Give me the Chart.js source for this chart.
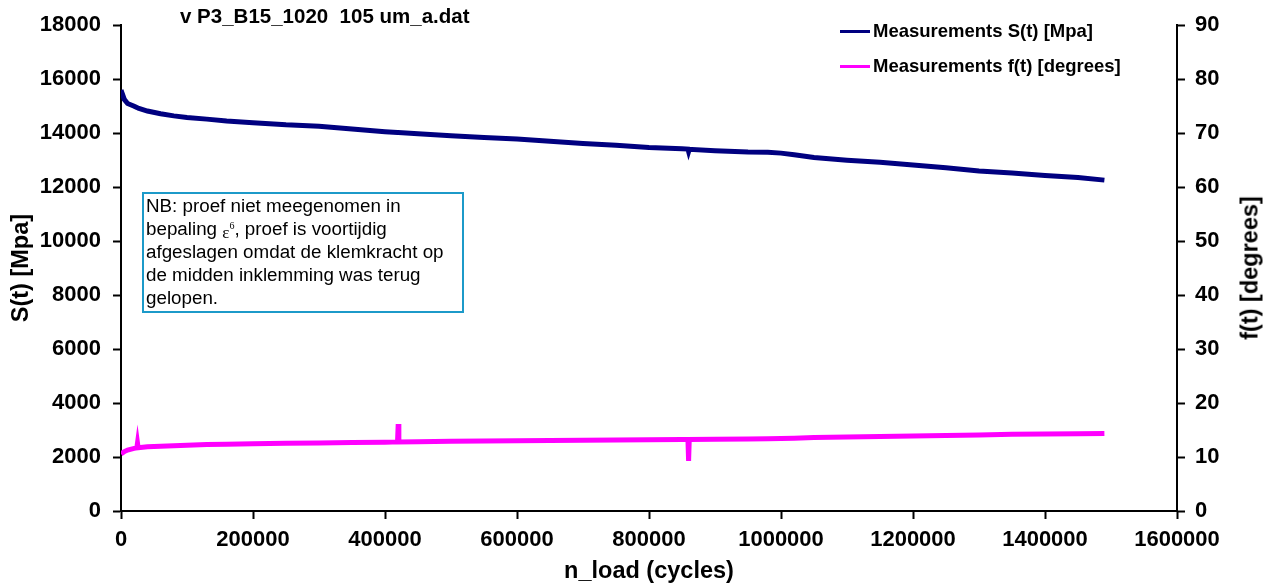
<!DOCTYPE html>
<html lang="nl">
<head>
  <meta charset="UTF-8">
  <title>v P3_B15_1020 105 um_a.dat</title>
  <script src="https://cdn.jsdelivr.net/npm/chart.js"></script>
  <style>
    body {
      margin: 0;
      background: #fff;
      font-family: 'Liberation Sans', Arial, sans-serif;
    }
    .wrap {
      position: relative;
      width: 1266px;
      height: 587px;
    }
    .title {
      position: absolute;
      left: 180px;
      top: 4px;
      font-size: 20.5px;
      font-weight: bold;
      white-space: pre;
    }
    .legend {
      position: absolute;
      left: 840px;
      top: 19px;
      font-size: 18.5px;
      font-weight: bold;
    }
    .legend div {
      display: flex;
      align-items: center;
      height: 24px;
      margin-bottom: 11px;
    }
    .legend span.line {
      display: inline-block;
      width: 30px;
      height: 3px;
      margin-right: 3px;
    }
    .note {
      position: absolute;
      left: 142px;
      top: 192px;
      width: 316px;
      height: 117px;
      border: 2px solid #1c9ac9;
      padding: 0 0 0 2px;
      font-size: 18.8px;
      line-height: 23px;
      white-space: nowrap;
    }
    .note .eps {
      font-family: 'Liberation Serif', 'DejaVu Serif', serif;
      font-size: 17px;
      line-height: 0;
      position: relative;
      top: 3px;
    }
    .note sup {
      font-size: 10px;
      line-height: 0;
      position: relative;
      top: -2px;
    }
    .ytitle-right {
      position: absolute;
      left: 1250px;
      top: 268px;
      transform: translate(-50%, -50%) rotate(-90deg);
      font-size: 23.5px;
      font-weight: bold;
      white-space: nowrap;
    }
  </style>
</head>
<body>
  <div class="wrap">
    <canvas id="chart" width="1266" height="587"></canvas>
    <div class="title">v P3_B15_1020  105 um_a.dat</div>
    <div class="legend">
      <div><span class="line" style="background:#000080"></span>Measurements S(t) [Mpa]</div>
      <div><span class="line" style="background:#ff00ff"></span>Measurements f(t) [degrees]</div>
    </div>
    <div class="note">NB: proef niet meegenomen in<br>bepaling <span class="eps">ε<sup>6</sup></span>, proef is voortijdig<br>afgeslagen omdat de klemkracht op<br>de midden inklemming was terug<br>gelopen.</div>
    <div class="ytitle-right">f(t) [degrees]</div>
  </div>

  <script>
    // load cycles
    const cycles = [
      0, 5000, 10000, 20000, 24000, 25000, 26000, 40000, 60000, 80000,
      100000, 130000, 160000, 200000, 250000, 300000, 350000, 400000,
      419000, 420000, 421000, 450000, 500000, 550000, 600000, 650000,
      700000, 750000, 800000, 850000, 859000, 860000, 861000, 900000,
      950000, 980000, 1000000, 1020000, 1050000, 1100000, 1150000,
      1200000, 1250000, 1300000, 1350000, 1400000, 1450000, 1490000
    ];

    // stiffness S(t) [Mpa]
    const stiffness = [
      15600, 15250, 15100, 15000, 14950, 14940, 14930, 14820, 14720, 14640,
      14580, 14520, 14450, 14390, 14310, 14260, 14150, 14050,
      14020, 14020, 14020, 13980, 13900, 13840, 13780, 13700,
      13620, 13550, 13470, 13420, 13410, 13320, 13400, 13350,
      13300, 13290, 13260, 13200, 13100, 13000, 12920,
      12820, 12720, 12600, 12520, 12430, 12360, 12260
    ];

    // phase angle f(t) [degrees]
    const phase = [
      10.6, 11.0, 11.3, 11.6, 11.7, 12.6, 11.7, 11.9, 12.0, 12.1,
      12.2, 12.3, 12.35, 12.45, 12.55, 12.6, 12.7, 12.75,
      12.8, 16.1, 12.8, 12.85, 12.9, 12.95, 13.0, 13.05,
      13.1, 13.15, 13.2, 13.25, 13.25, 9.3, 13.25, 13.3,
      13.35, 13.4, 13.45, 13.5, 13.6, 13.7, 13.8,
      13.9, 14.0, 14.1, 14.2, 14.25, 14.3, 14.35
    ];

    const xTicks = [0, 200000, 400000, 600000, 800000, 1000000, 1200000, 1400000, 1600000];

    const font = { family: "'Liberation Sans', Arial, sans-serif", size: 22, weight: 'bold' };
    const titleFont = { family: "'Liberation Sans', Arial, sans-serif", size: 23.5, weight: 'bold' };

    const axisGrid = {
      drawOnChartArea: false,
      drawTicks: true,
      tickLength: 8,
      tickWidth: 2,
      tickColor: '#000',
      color: '#000'
    };
    const axisBorder = { display: true, color: '#000', width: 2 };

    const ctx = document.getElementById('chart').getContext('2d');
    const chart = new Chart(ctx, {
      type: 'line',
      data: {
        datasets: [
          {
            label: 'Measurements S(t) [Mpa]',
            data: cycles.map((c, i) => ({ x: c, y: stiffness[i] })),
            borderColor: '#000080',
            borderWidth: 5,
            pointRadius: 0,
            tension: 0,
            yAxisID: 'yS'
          },
          {
            label: 'Measurements f(t) [degrees]',
            data: cycles.map((c, i) => ({ x: c, y: phase[i] })),
            borderColor: '#ff00ff',
            borderWidth: 5,
            pointRadius: 0,
            tension: 0,
            yAxisID: 'yF'
          }
        ]
      },
      options: {
        responsive: false,
        animation: false,
        layout: { padding: { top: 23, left: 0, right: 0, bottom: 0 } },
        plugins: {
          legend: { display: false },
          tooltip: { enabled: false }
        },
        scales: {
          x: {
            type: 'linear',
            min: 0,
            max: 1600000,
            afterBuildTicks: (scale) => { scale.ticks = xTicks.map(v => ({ value: v })); },
            afterFit: (scale) => { scale.height = 76; },
            ticks: {
              color: '#000',
              font: font,
              padding: 8,
              maxRotation: 0,
              autoSkip: false,
              callback: (v) => String(v)
            },
            grid: axisGrid,
            border: axisBorder,
            title: {
              display: true,
              text: 'n_load (cycles)',
              color: '#000',
              font: titleFont,
              padding: { top: 0, bottom: 1 }
            }
          },
          yS: {
            position: 'left',
            min: 0,
            max: 18000,
            afterFit: (scale) => { scale.width = 121; },
            ticks: {
              stepSize: 2000,
              color: '#000',
              font: font,
              padding: 12,
              callback: (v) => String(v)
            },
            grid: axisGrid,
            border: axisBorder,
            title: {
              display: true,
              text: 'S(t) [Mpa]',
              color: '#000',
              font: titleFont,
              padding: { top: 7, bottom: 0 }
            }
          },
          yF: {
            position: 'right',
            min: 0,
            max: 90,
            afterFit: (scale) => { scale.width = 89; },
            ticks: {
              stepSize: 10,
              color: '#000',
              font: font,
              padding: 10,
              callback: (v) => String(v)
            },
            grid: axisGrid,
            border: axisBorder
          }
        }
      }
    });
  </script>
</body>
</html>
